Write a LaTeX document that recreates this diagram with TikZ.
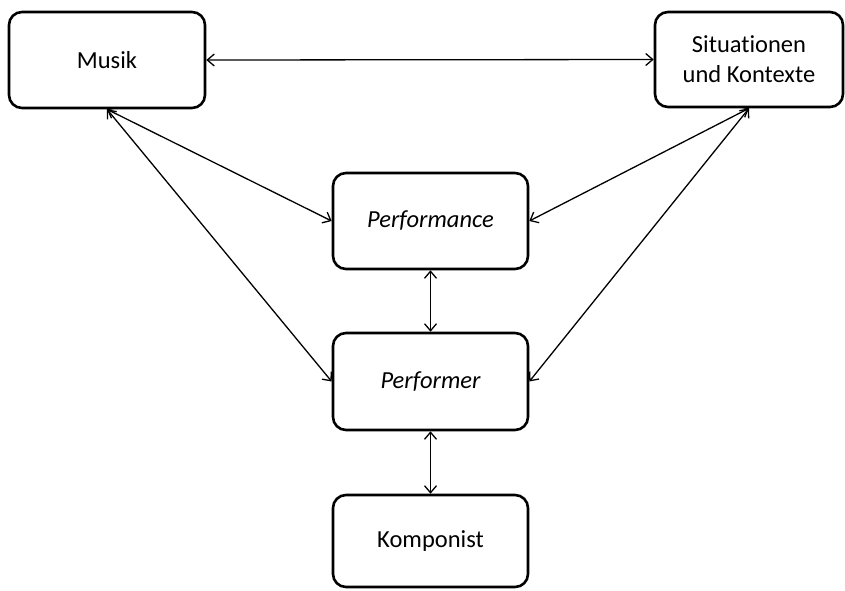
\documentclass[tikz,border=0pt]{standalone}
\usepackage{fontspec}
\setmainfont[Ligatures=NoCommon]{Carlito}
\usetikzlibrary{arrows.meta}
\begin{document}
\begin{tikzpicture}[x=1pt,y=-1pt,
  box/.style={draw, line width=2.6pt, rounded corners=13pt, fill=white,
    align=center, inner sep=0pt, font=\fontsize{24.5}{30}\selectfont},
  link/.style={line width=1.3pt, {Straight Barb[length=7pt,width=12pt]}-{Straight Barb[length=7pt,width=12pt]}}]
  \useasboundingbox (0,0) rectangle (845,590);
  \node[box, minimum width=196pt, minimum height=96pt] (musik) at (107,60) {Musik};
  \node[box, minimum width=188pt, minimum height=95pt] (sit) at (749,59.5) {Situationen\\und Kontexte};
  \node[box, minimum width=195pt, minimum height=96pt] (perf) at (430.5,221) {\itshape Performance};
  \node[box, minimum width=195pt, minimum height=97pt] (perfr) at (430.5,381.5) {\itshape Performer};
  \node[box, minimum width=195pt, minimum height=92pt] (komp) at (430.5,541) {Komponist};
  \draw[link] (musik.east) -- (sit.west);
  \draw[link] (musik.south) -- (perf.west);
  \draw[link] (musik.south) -- (perfr.west);
  \draw[link] (sit.south) -- (perf.east);
  \draw[link] (sit.south) -- (perfr.east);
  \draw[link] (perf.south) -- (perfr.north);
  \draw[link] (perfr.south) -- (komp.north);
\end{tikzpicture}
\end{document}
